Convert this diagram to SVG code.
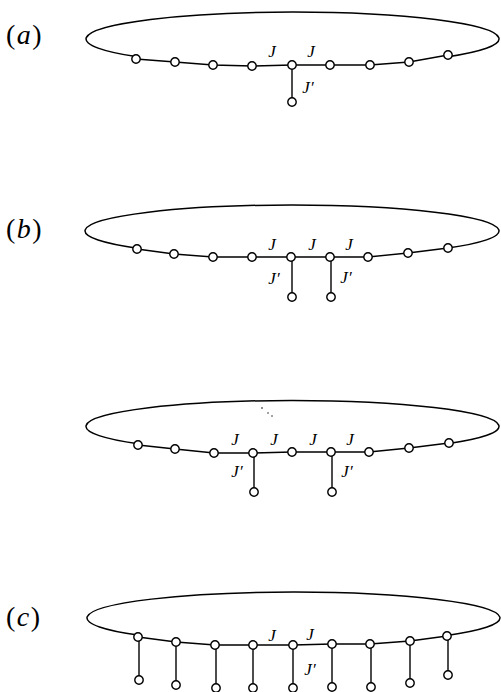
<svg xmlns="http://www.w3.org/2000/svg" width="501" height="692" viewBox="0 0 501 692">
<style>
.ring{fill:none;stroke:#000;stroke-width:1.5}
.edge{fill:none;stroke:#000;stroke-width:1.4}
.site{fill:#fff;stroke:#000;stroke-width:1.4}
.lbl{font-family:"Liberation Serif",serif;font-style:italic;font-size:17px;text-anchor:middle}
.pl{font-family:"Liberation Serif",serif;font-size:28px;letter-spacing:1.5px}
.pl tspan.i{font-style:italic}
</style>
<defs>
<circle id="s" r="4.2" class="site"/>
</defs>
<rect width="501" height="692" fill="#fff"/>

<!-- panel labels -->
<text class="pl" x="6" y="44">(<tspan class="i">a</tspan>)</text>
<text class="pl" x="6" y="238">(<tspan class="i">b</tspan>)</text>
<text class="pl" x="6" y="626">(<tspan class="i">c</tspan>)</text>

<g id="connectors">
  <!-- (a) -->
  <path class="ring" d="M136,59 L136,56.61 A206.5,27 0 1 1 448,56.77 L448,55"/>
  <polyline class="edge" points="136,59 175,62 213,65 252,66 292,65 330,65 370,65 409,62 448,55"/>
  <line class="edge" x1="292" y1="65" x2="292" y2="102"/>
  <!-- (b) -->
  <path class="ring" d="M137,249 L137,248.23 A207,26 0 1 1 448,248.09 L448,248"/>
  <polyline class="edge" points="137,249 174,254 213,257 252,257 291,257 330,257 368,257 408,253 448,248"/>
  <line class="edge" x1="292" y1="257" x2="292" y2="297"/>
  <line class="edge" x1="331" y1="257" x2="331" y2="297"/>
  <!-- (b') -->
  <path class="ring" d="M138,445 L138,443.75 A206.5,26 0 1 1 449,443.46 L449,443"/>
  <polyline class="edge" points="138,445 175,449 214,453 253,453 292,452 331,452 369,452 409,448 449,443"/>
  <line class="edge" x1="254" y1="453" x2="254" y2="492"/>
  <line class="edge" x1="332" y1="452" x2="332" y2="492"/>
  <!-- (c) -->
  <path class="ring" d="M138,637 L138,635.11 A206.5,26 0 1 1 447,635.39 L447,636"/>
  <polyline class="edge" points="138,637 176,642 215,645 253,645 293,645 332,644 370,644 410,641 447,636"/>
  <line class="edge" x1="139" y1="637" x2="139" y2="680"/>
  <line class="edge" x1="176" y1="642" x2="176" y2="685"/>
  <line class="edge" x1="216" y1="645" x2="216" y2="688"/>
  <line class="edge" x1="253" y1="645" x2="253" y2="688"/>
  <line class="edge" x1="293" y1="645" x2="293" y2="688"/>
  <line class="edge" x1="332" y1="644" x2="332" y2="687"/>
  <line class="edge" x1="371" y1="644" x2="371" y2="687"/>
  <line class="edge" x1="410" y1="641" x2="410" y2="683"/>
  <line class="edge" x1="448" y1="636" x2="448" y2="675"/>
</g>

<!-- panel (a) nodes -->
<g id="a-sites">
  <use href="#s" x="136" y="59"/><use href="#s" x="175" y="62"/><use href="#s" x="213" y="65"/>
  <use href="#s" x="252" y="66"/><use href="#s" x="292" y="65"/><use href="#s" x="330" y="65"/>
  <use href="#s" x="370" y="65"/><use href="#s" x="409" y="62"/><use href="#s" x="448" y="55"/>
</g>
<g id="a-pendant"><use href="#s" x="292" y="102"/></g>
<g id="a-labels">
  <text class="lbl" x="272" y="57">J</text>
  <text class="lbl" x="311" y="57">J</text>
  <text class="lbl" x="308" y="93">J′</text>
</g>

<!-- panel (b) nodes -->
<g id="b-sites">
  <use href="#s" x="137" y="249"/><use href="#s" x="174" y="254"/><use href="#s" x="213" y="257"/>
  <use href="#s" x="252" y="257"/><use href="#s" x="291" y="257"/><use href="#s" x="330" y="257"/>
  <use href="#s" x="368" y="257"/><use href="#s" x="408" y="253"/><use href="#s" x="448" y="248"/>
</g>
<g id="b-pendants"><use href="#s" x="292" y="297"/><use href="#s" x="331" y="297"/></g>
<g id="b-labels">
  <text class="lbl" x="272" y="250">J</text>
  <text class="lbl" x="312" y="250">J</text>
  <text class="lbl" x="349" y="250">J</text>
  <text class="lbl" x="274" y="284">J′</text>
  <text class="lbl" x="346" y="283">J′</text>
</g>

<!-- panel (b') nodes -->
<g id="b2-sites">
  <use href="#s" x="138" y="445"/><use href="#s" x="175" y="449"/><use href="#s" x="214" y="453"/>
  <use href="#s" x="253" y="453"/><use href="#s" x="292" y="452"/><use href="#s" x="331" y="452"/>
  <use href="#s" x="369" y="452"/><use href="#s" x="409" y="448"/><use href="#s" x="449" y="443"/>
</g>
<g id="b2-pendants"><use href="#s" x="254" y="492"/><use href="#s" x="332" y="492"/></g>
<g id="b2-labels">
  <text class="lbl" x="235" y="445">J</text>
  <text class="lbl" x="274" y="445">J</text>
  <text class="lbl" x="313" y="445">J</text>
  <text class="lbl" x="350" y="445">J</text>
  <text class="lbl" x="237" y="477">J′</text>
  <text class="lbl" x="347" y="477">J′</text>
</g>
<g id="b2-dots" fill="#000">
  <circle cx="262" cy="408" r="0.8"/><circle cx="268" cy="413" r="0.7"/><circle cx="272" cy="416" r="0.7"/>
</g>

<!-- panel (c) nodes -->
<g id="c-sites">
  <use href="#s" x="138" y="637"/><use href="#s" x="176" y="642"/><use href="#s" x="215" y="645"/>
  <use href="#s" x="253" y="645"/><use href="#s" x="293" y="645"/><use href="#s" x="332" y="644"/>
  <use href="#s" x="370" y="644"/><use href="#s" x="410" y="641"/><use href="#s" x="447" y="636"/>
</g>
<g id="c-pendants">
  <use href="#s" x="139" y="680"/><use href="#s" x="176" y="685"/><use href="#s" x="216" y="688"/>
  <use href="#s" x="253" y="688"/><use href="#s" x="293" y="688"/><use href="#s" x="332" y="687"/>
  <use href="#s" x="371" y="687"/><use href="#s" x="410" y="683"/><use href="#s" x="448" y="675"/>
</g>
<g id="c-labels">
  <text class="lbl" x="272" y="641">J</text>
  <text class="lbl" x="310" y="640">J</text>
  <text class="lbl" x="310" y="675">J′</text>
</g>
</svg>
